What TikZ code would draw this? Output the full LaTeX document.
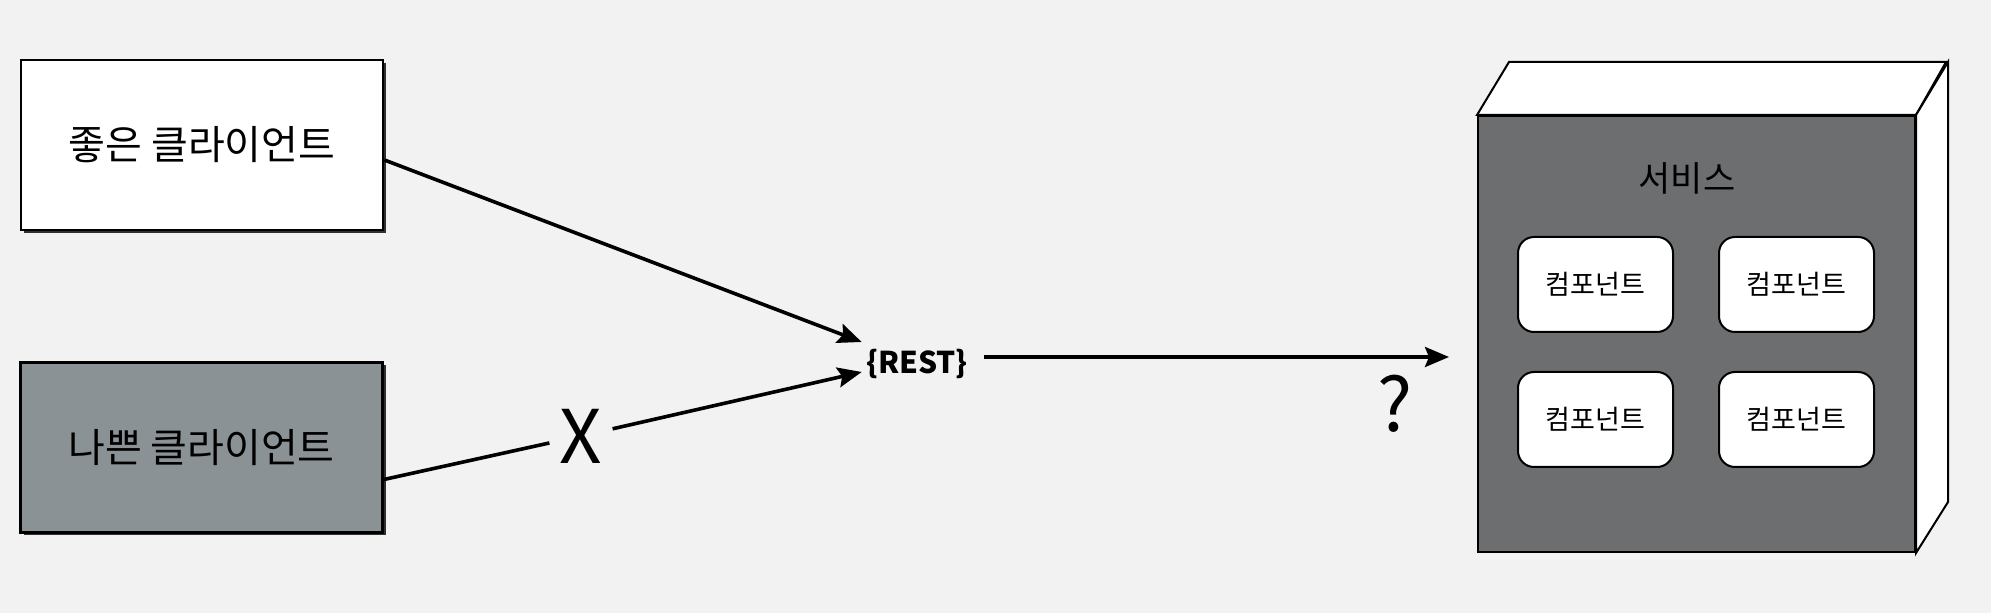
\documentclass[tikz,border=0pt]{standalone}
\usepackage{xcolor}
\usepackage{fontspec}
\setmainfont{Noto Sans CJK KR}
\usepackage{tikz}
\usetikzlibrary{arrows.meta,shadows}
\definecolor{paper}{RGB}{241,242,241}
\definecolor{badgray}{RGB}{138,146,150}
\definecolor{svcgray}{RGB}{108,110,111}

\begin{document}
\begin{tikzpicture}[x=0.5pt,y=-0.5pt,
  client/.style={draw,line width=1.4pt,minimum width=181pt,minimum height=85pt,inner sep=0pt,font=\fontsize{20}{24}\selectfont,drop shadow={shadow xshift=1.5pt,shadow yshift=-1.5pt,fill=black,opacity=0.8}},
  comp/.style={draw,fill=white,rounded corners=8pt,line width=1pt,minimum width=77.5pt,minimum height=47.5pt,inner sep=0pt,font=\fontsize{13.5}{16}\selectfont},
  link/.style={line width=1.8pt},
  tip/.style={-{Stealth[length=12pt,width=10pt,inset=2pt]}}]
\fill[paper] (0,0) rectangle (1991,613);
\useasboundingbox (0,0) rectangle (1991,613);
%Clients
\node[client,fill=white] (good) at (202,145) {좋은 클라이언트};
\node[client,fill=badgray] (bad) at (201.5,447.5) {나쁜 클라이언트};
%Service
\node[draw,fill=svcgray,line width=1pt,minimum width=218.5pt,minimum height=218pt,inner sep=0pt] (svc) at (1696.5,334) {};
\draw[fill=white,line width=1pt] (svc.north west) -- ++(32,-53) -- ++(437,0) -- (svc.north east) -- cycle;
\draw[fill=white,line width=1pt] (svc.north east) -- ++(32,-53) -- ++(0,440) -- (svc.south east) -- cycle;
\node[font=\fontsize{17.5}{20}\selectfont] (svctitle) at (1687,178) {서비스};
\node[comp] (comp1) at (1595.5,284.5) {컴포넌트};
\node[comp] (comp2) at (1796.5,284.5) {컴포넌트};
\node[comp] (comp3) at (1595.5,419.5) {컴포넌트};
\node[comp] (comp4) at (1796.5,419.5) {컴포넌트};
%Text
\node[font=\bfseries\fontsize{15}{18}\selectfont,inner sep=2pt] (rest) at (917,364) {\{REST\}};
\node[font=\fontsize{37}{40}\selectfont,inner xsep=5pt,inner ysep=0pt] (xmark) at (581,436) {X};
\node[font=\fontsize{37}{40}\selectfont,inner sep=0pt] (quest) at (1395,404) {?};
%Arrows
\draw[link,tip] ([yshift=-7.5pt]good.east) -- ([yshift=11pt]rest.west);
\draw[link] ([yshift=-16pt]bad.east) -- (xmark);
\draw[link,tip] (xmark) -- ([yshift=-4pt]rest.west);
\coordinate (restout) at ([yshift=3.5pt]rest.east);
\draw[link,tip,shorten <=6pt,shorten >=14pt] (restout) -- (restout -| svc.west);
\end{tikzpicture}
\end{document}
